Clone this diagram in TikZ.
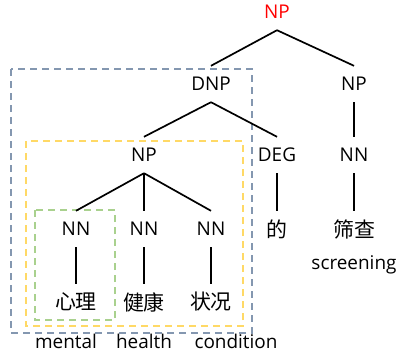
\documentclass[tikz,border=0pt]{standalone}
\usepackage{fontspec}
\setmainfont{Open Sans}
\newfontfamily\cjkfont{Noto Sans CJK SC}
\usetikzlibrary{positioning}
\usepackage{xcolor}
\definecolor{outercol}{HTML}{8497B0}
\definecolor{midcol}{HTML}{FFD966}
\definecolor{innercol}{HTML}{A9D18E}
\definecolor{rootcol}{HTML}{FF0000}

\begin{document}
\begin{tikzpicture}[x=1bp, y=-1bp,
  cat/.style={minimum height=36bp, inner sep=0pt, font=\fontsize{19}{21}\selectfont},
  word/.style={cat, font=\fontsize{21}{23}\selectfont\cjkfont},
  gloss/.style={inner sep=0pt, font=\fontsize{19}{21}\selectfont},
  branch/.style={line width=1.7bp},
  region/.style={line width=1.5bp, dash pattern=on 7bp off 5bp}]
  \useasboundingbox (0,0) rectangle (398,358);
  % dashed regions
  \draw[region, outercol] (11,69) rectangle (252,333);
  \draw[region, midcol]   (26,141) rectangle (243,326);
  \draw[region, innercol] (35,210) rectangle (115,320);
  % categories
  \node[cat, text=rootcol] (root) at (277,12) {NP};
  \node[cat] (dnp)  at (211,84)  {DNP};
  \node[cat] (npr)  at (354,84)  {NP};
  \node[cat] (npl)  at (144,155) {NP};
  \node[cat] (deg)  at (277,155) {DEG};
  \node[cat] (nnr)  at (354,155) {NN};
  \node[cat] (nna)  at (76,229)  {NN};
  \node[cat] (nnb)  at (144,229) {NN};
  \node[cat] (nnc)  at (211,229) {NN};
  % words
  \node[word] (de)     at (277,229) {的};
  \node[word] (shaicha) at (354,229) {筛查};
  \node[word] (xinli)  at (76,302)  {心理};
  \node[word] (jiankang) at (144,302) {健康};
  \node[word] (zhuangkuang) at (211,302) {状况};
  % glosses
  \node[gloss] (screening) at (354,265) {screening};
  \node[gloss] (mental)    at (66,341)  {mental};
  \node[gloss] (health)    at (144,341) {health};
  \node[gloss] (condition) at (236,341) {condition};
  % branches
  \draw[branch] (root.south) -- (dnp.north);
  \draw[branch] (root.south) -- (npr.north);
  \draw[branch] (dnp.south) -- (npl.north);
  \draw[branch] (dnp.south) -- (deg.north);
  \draw[branch] (npr) -- (nnr);
  \draw[branch] (npl.south) -- (nna.north);
  \draw[branch] (npl.south) -- (nnb.north);
  \draw[branch] (npl.south) -- (nnc.north);
  \draw[branch] (deg) -- (de);
  \draw[branch] (nnr) -- (shaicha);
  \draw[branch] (nna) -- (xinli);
  \draw[branch] (nnb) -- (jiankang);
  \draw[branch] (nnc) -- (zhuangkuang);
\end{tikzpicture}
\end{document}
